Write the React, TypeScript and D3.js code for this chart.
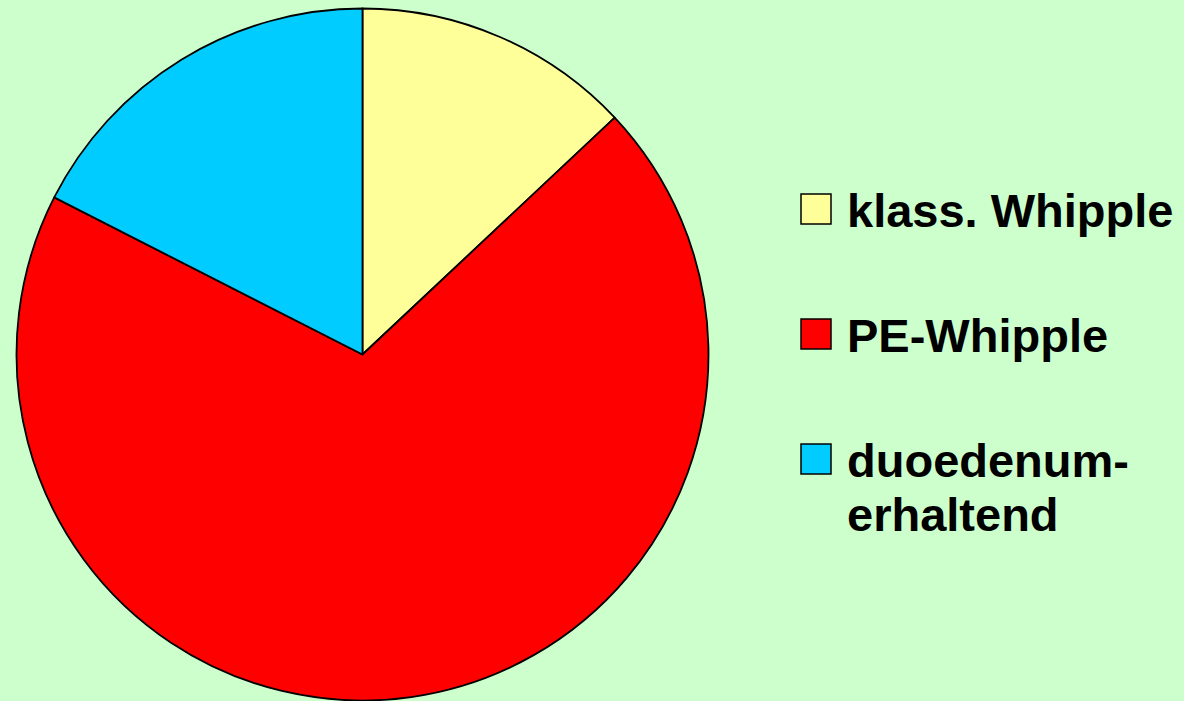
import { useMemo } from 'react'
import * as d3 from 'd3'

const categories = ['klass. Whipple', 'PE-Whipple', 'duoedenum-erhaltend']
const shares = [13, 69.5, 17.5]
const colors = ['#ffff99', '#ff0000', '#00ccff']
// legend text as it wraps in the picture
const legendLines = [['klass. Whipple'], ['PE-Whipple'], ['duoedenum-', 'erhaltend']]

type Slice = { label: string; value: number; color: string }

export default function App() {
  const width = 1184
  const height = 701
  const cx = 362.5
  const cy = 354.5
  const radius = 346

  const data = useMemo<Slice[]>(
    () => categories.map((label, i) => ({ label, value: shares[i], color: colors[i] })),
    []
  )

  const arcs = useMemo(
    () =>
      d3
        .pie<Slice>()
        .value((d) => d.value)
        .sort(null)(data),
    [data]
  )

  const arcGen = d3.arc<d3.PieArcDatum<Slice>>().innerRadius(0).outerRadius(radius)

  const legendX = 801
  const legendY = d3.scalePoint<string>().domain(categories).range([194, 444])

  return (
    <div style={{ position: 'fixed', left: 0, top: 0, width, height, background: '#ccffcc' }}>
      <svg width={width} height={height} style={{ display: 'block' }}>
        <rect width={width} height={height} fill="#ccffcc" />
        <g transform={`translate(${cx}, ${cy})`}>
          {arcs.map((a) => (
            <path
              key={a.data.label}
              d={arcGen(a) ?? ''}
              fill={a.data.color}
              stroke="#000"
              strokeWidth={1.8}
              strokeLinejoin="round"
            />
          ))}
        </g>

        {data.map((d, i) => {
          const y = legendY(d.label) ?? 0
          return (
            <g key={d.label}>
              <rect x={legendX} y={y} width={30} height={30} fill={d.color} stroke="#000" strokeWidth={1.5} />
              <text
                x={847}
                y={y + 33}
                fontFamily="'Liberation Sans', Arial, sans-serif"
                fontWeight="bold"
                fontSize={47}
                fill="#000"
              >
                {legendLines[i].map((line, j) => (
                  <tspan key={line} x={847} dy={j === 0 ? 0 : 54}>
                    {line}
                  </tspan>
                ))}
              </text>
            </g>
          )
        })}
      </svg>
    </div>
  )
}
